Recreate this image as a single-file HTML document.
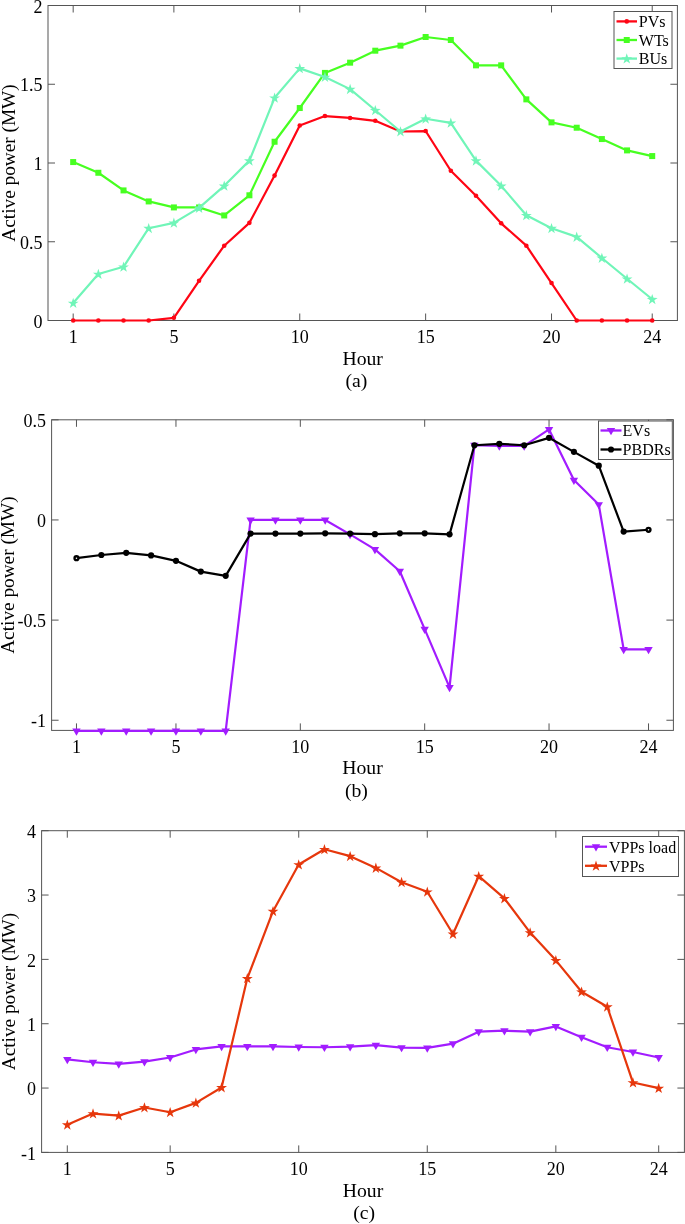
<!DOCTYPE html>
<html><head><meta charset="utf-8"><style>
html,body{margin:0;padding:0;background:#fff;}
svg{display:block;will-change:transform;}
.t{font-family:"Liberation Serif", serif;font-size:18px;fill:#000;}
.g{font-family:"Liberation Serif", serif;font-size:16px;fill:#000;}
.y{font-family:"Liberation Serif", serif;font-size:19.3px;fill:#000;}
.l{font-family:"Liberation Serif", serif;font-size:19.7px;fill:#000;}
</style></head><body>
<svg width="685" height="1224" viewBox="0 0 685 1224">
<rect width="685" height="1224" fill="#fff"/>
<rect x="48.0" y="5.5" width="629.40" height="315.00" fill="none" stroke="#555555" stroke-width="1"/>
<path d="M73.18,320.5 v-7.0 M73.18,5.5 v7.0" stroke="#555555" stroke-width="1"/>
<text x="73.18" y="342.80" text-anchor="middle" class="t">1</text>
<path d="M173.88,320.5 v-7.0 M173.88,5.5 v7.0" stroke="#555555" stroke-width="1"/>
<text x="173.88" y="342.80" text-anchor="middle" class="t">5</text>
<path d="M299.76,320.5 v-7.0 M299.76,5.5 v7.0" stroke="#555555" stroke-width="1"/>
<text x="299.76" y="342.80" text-anchor="middle" class="t">10</text>
<path d="M425.64,320.5 v-7.0 M425.64,5.5 v7.0" stroke="#555555" stroke-width="1"/>
<text x="425.64" y="342.80" text-anchor="middle" class="t">15</text>
<path d="M551.52,320.5 v-7.0 M551.52,5.5 v7.0" stroke="#555555" stroke-width="1"/>
<text x="551.52" y="342.80" text-anchor="middle" class="t">20</text>
<path d="M652.22,320.5 v-7.0 M652.22,5.5 v7.0" stroke="#555555" stroke-width="1"/>
<text x="652.22" y="342.80" text-anchor="middle" class="t">24</text>
<path d="M48.0,320.50 h7.0 M677.4,320.50 h-7.0" stroke="#555555" stroke-width="1"/>
<text x="42.50" y="327.70" text-anchor="end" class="t">0</text>
<path d="M48.0,241.75 h7.0 M677.4,241.75 h-7.0" stroke="#555555" stroke-width="1"/>
<text x="42.50" y="248.95" text-anchor="end" class="t">0.5</text>
<path d="M48.0,163.00 h7.0 M677.4,163.00 h-7.0" stroke="#555555" stroke-width="1"/>
<text x="42.50" y="170.20" text-anchor="end" class="t">1</text>
<path d="M48.0,84.25 h7.0 M677.4,84.25 h-7.0" stroke="#555555" stroke-width="1"/>
<text x="42.50" y="91.45" text-anchor="end" class="t">1.5</text>
<path d="M48.0,5.50 h7.0 M677.4,5.50 h-7.0" stroke="#555555" stroke-width="1"/>
<text x="42.50" y="12.70" text-anchor="end" class="t">2</text>
<path d="M73.18,320.50 L98.35,320.50 L123.53,320.50 L148.70,320.50 L173.88,317.82 L199.06,280.81 L224.23,245.69 L249.41,222.85 L274.58,175.60 L299.76,125.52 L324.94,116.06 L350.11,117.95 L375.29,120.79 L400.46,131.50 L425.64,131.03 L450.82,170.72 L475.99,195.76 L501.17,223.32 L526.34,245.69 L551.52,283.01 L576.70,320.50 L601.87,320.50 L627.05,320.50 L652.22,320.50" fill="none" stroke="#ff0514" stroke-width="2.2" stroke-linejoin="round"/>
<circle cx="73.18" cy="320.50" r="2.3" fill="#ff0514"/>
<circle cx="98.35" cy="320.50" r="2.3" fill="#ff0514"/>
<circle cx="123.53" cy="320.50" r="2.3" fill="#ff0514"/>
<circle cx="148.70" cy="320.50" r="2.3" fill="#ff0514"/>
<circle cx="173.88" cy="317.82" r="2.3" fill="#ff0514"/>
<circle cx="199.06" cy="280.81" r="2.3" fill="#ff0514"/>
<circle cx="224.23" cy="245.69" r="2.3" fill="#ff0514"/>
<circle cx="249.41" cy="222.85" r="2.3" fill="#ff0514"/>
<circle cx="274.58" cy="175.60" r="2.3" fill="#ff0514"/>
<circle cx="299.76" cy="125.52" r="2.3" fill="#ff0514"/>
<circle cx="324.94" cy="116.06" r="2.3" fill="#ff0514"/>
<circle cx="350.11" cy="117.95" r="2.3" fill="#ff0514"/>
<circle cx="375.29" cy="120.79" r="2.3" fill="#ff0514"/>
<circle cx="400.46" cy="131.50" r="2.3" fill="#ff0514"/>
<circle cx="425.64" cy="131.03" r="2.3" fill="#ff0514"/>
<circle cx="450.82" cy="170.72" r="2.3" fill="#ff0514"/>
<circle cx="475.99" cy="195.76" r="2.3" fill="#ff0514"/>
<circle cx="501.17" cy="223.32" r="2.3" fill="#ff0514"/>
<circle cx="526.34" cy="245.69" r="2.3" fill="#ff0514"/>
<circle cx="551.52" cy="283.01" r="2.3" fill="#ff0514"/>
<circle cx="576.70" cy="320.50" r="2.3" fill="#ff0514"/>
<circle cx="601.87" cy="320.50" r="2.3" fill="#ff0514"/>
<circle cx="627.05" cy="320.50" r="2.3" fill="#ff0514"/>
<circle cx="652.22" cy="320.50" r="2.3" fill="#ff0514"/>
<path d="M73.18,162.06 L98.35,172.77 L123.53,190.41 L148.70,201.43 L173.88,207.42 L199.06,207.42 L224.23,215.45 L249.41,195.29 L274.58,141.74 L299.76,108.03 L324.94,72.91 L350.11,62.67 L375.29,50.70 L400.46,45.66 L425.64,37.00 L450.82,39.99 L475.99,65.35 L501.17,65.35 L526.34,99.37 L551.52,122.37 L576.70,127.72 L601.87,139.06 L627.05,150.40 L652.22,156.07" fill="none" stroke="#47ff21" stroke-width="2.2" stroke-linejoin="round"/>
<rect x="70.18" y="159.06" width="6.0" height="6.0" fill="#47ff21"/>
<rect x="95.35" y="169.77" width="6.0" height="6.0" fill="#47ff21"/>
<rect x="120.53" y="187.41" width="6.0" height="6.0" fill="#47ff21"/>
<rect x="145.70" y="198.43" width="6.0" height="6.0" fill="#47ff21"/>
<rect x="170.88" y="204.42" width="6.0" height="6.0" fill="#47ff21"/>
<rect x="196.06" y="204.42" width="6.0" height="6.0" fill="#47ff21"/>
<rect x="221.23" y="212.45" width="6.0" height="6.0" fill="#47ff21"/>
<rect x="246.41" y="192.29" width="6.0" height="6.0" fill="#47ff21"/>
<rect x="271.58" y="138.74" width="6.0" height="6.0" fill="#47ff21"/>
<rect x="296.76" y="105.03" width="6.0" height="6.0" fill="#47ff21"/>
<rect x="321.94" y="69.91" width="6.0" height="6.0" fill="#47ff21"/>
<rect x="347.11" y="59.67" width="6.0" height="6.0" fill="#47ff21"/>
<rect x="372.29" y="47.70" width="6.0" height="6.0" fill="#47ff21"/>
<rect x="397.46" y="42.66" width="6.0" height="6.0" fill="#47ff21"/>
<rect x="422.64" y="34.00" width="6.0" height="6.0" fill="#47ff21"/>
<rect x="447.82" y="36.99" width="6.0" height="6.0" fill="#47ff21"/>
<rect x="472.99" y="62.35" width="6.0" height="6.0" fill="#47ff21"/>
<rect x="498.17" y="62.35" width="6.0" height="6.0" fill="#47ff21"/>
<rect x="523.34" y="96.37" width="6.0" height="6.0" fill="#47ff21"/>
<rect x="548.52" y="119.37" width="6.0" height="6.0" fill="#47ff21"/>
<rect x="573.70" y="124.72" width="6.0" height="6.0" fill="#47ff21"/>
<rect x="598.87" y="136.06" width="6.0" height="6.0" fill="#47ff21"/>
<rect x="624.05" y="147.40" width="6.0" height="6.0" fill="#47ff21"/>
<rect x="649.22" y="153.07" width="6.0" height="6.0" fill="#47ff21"/>
<path d="M73.18,303.02 L98.35,274.04 L123.53,266.79 L148.70,228.21 L173.88,222.85 L199.06,207.89 L224.23,185.84 L249.41,160.64 L274.58,97.80 L299.76,68.34 L324.94,77.00 L350.11,89.13 L375.29,110.24 L400.46,131.50 L425.64,118.74 L450.82,122.84 L475.99,160.64 L501.17,185.84 L526.34,215.29 L551.52,228.21 L576.70,236.87 L601.87,257.97 L627.05,278.76 L652.22,299.24" fill="none" stroke="#70f5b8" stroke-width="2.2" stroke-linejoin="round"/>
<path d="M73.18,297.72 L74.47,301.64 L78.60,301.66 L75.27,304.10 L76.53,308.03 L73.18,305.62 L69.83,308.03 L71.08,304.10 L67.75,301.66 L71.88,301.64Z" fill="#70f5b8"/>
<path d="M98.35,268.74 L99.65,272.66 L103.77,272.68 L100.44,275.12 L101.70,279.05 L98.35,276.64 L95.00,279.05 L96.26,275.12 L92.93,272.68 L97.06,272.66Z" fill="#70f5b8"/>
<path d="M123.53,261.49 L124.82,265.41 L128.95,265.43 L125.62,267.87 L126.88,271.80 L123.53,269.39 L120.18,271.80 L121.44,267.87 L118.11,265.43 L122.23,265.41Z" fill="#70f5b8"/>
<path d="M148.70,222.91 L150.00,226.83 L154.13,226.84 L150.80,229.28 L152.05,233.22 L148.70,230.81 L145.35,233.22 L146.61,229.28 L143.28,226.84 L147.41,226.83Z" fill="#70f5b8"/>
<path d="M173.88,217.55 L175.17,221.47 L179.30,221.49 L175.97,223.93 L177.23,227.86 L173.88,225.45 L170.53,227.86 L171.79,223.93 L168.46,221.49 L172.59,221.47Z" fill="#70f5b8"/>
<path d="M199.06,202.59 L200.35,206.51 L204.48,206.53 L201.15,208.97 L202.41,212.90 L199.06,210.49 L195.71,212.90 L196.96,208.97 L193.63,206.53 L197.76,206.51Z" fill="#70f5b8"/>
<path d="M224.23,180.54 L225.53,184.46 L229.65,184.48 L226.32,186.92 L227.58,190.85 L224.23,188.44 L220.88,190.85 L222.14,186.92 L218.81,184.48 L222.94,184.46Z" fill="#70f5b8"/>
<path d="M249.41,155.34 L250.70,159.26 L254.83,159.28 L251.50,161.72 L252.76,165.65 L249.41,163.24 L246.06,165.65 L247.32,161.72 L243.99,159.28 L248.11,159.26Z" fill="#70f5b8"/>
<path d="M274.58,92.50 L275.88,96.42 L280.01,96.43 L276.68,98.87 L277.93,102.81 L274.58,100.40 L271.23,102.81 L272.49,98.87 L269.16,96.43 L273.29,96.42Z" fill="#70f5b8"/>
<path d="M299.76,63.04 L301.05,66.96 L305.18,66.98 L301.85,69.42 L303.11,73.35 L299.76,70.94 L296.41,73.35 L297.67,69.42 L294.34,66.98 L298.47,66.96Z" fill="#70f5b8"/>
<path d="M324.94,71.70 L326.23,75.63 L330.36,75.64 L327.03,78.08 L328.29,82.02 L324.94,79.61 L321.59,82.02 L322.84,78.08 L319.51,75.64 L323.64,75.63Z" fill="#70f5b8"/>
<path d="M350.11,83.83 L351.41,87.75 L355.53,87.77 L352.20,90.21 L353.46,94.14 L350.11,91.73 L346.76,94.14 L348.02,90.21 L344.69,87.77 L348.82,87.75Z" fill="#70f5b8"/>
<path d="M375.29,104.94 L376.58,108.86 L380.71,108.88 L377.38,111.32 L378.64,115.25 L375.29,112.84 L371.94,115.25 L373.20,111.32 L369.87,108.88 L373.99,108.86Z" fill="#70f5b8"/>
<path d="M400.46,126.20 L401.76,130.12 L405.89,130.14 L402.56,132.58 L403.81,136.51 L400.46,134.10 L397.11,136.51 L398.37,132.58 L395.04,130.14 L399.17,130.12Z" fill="#70f5b8"/>
<path d="M425.64,113.44 L426.93,117.36 L431.06,117.38 L427.73,119.82 L428.99,123.75 L425.64,121.34 L422.29,123.75 L423.55,119.82 L420.22,117.38 L424.35,117.36Z" fill="#70f5b8"/>
<path d="M450.82,117.54 L452.11,121.46 L456.24,121.48 L452.91,123.92 L454.17,127.85 L450.82,125.44 L447.47,127.85 L448.72,123.92 L445.39,121.48 L449.52,121.46Z" fill="#70f5b8"/>
<path d="M475.99,155.34 L477.29,159.26 L481.41,159.28 L478.08,161.72 L479.34,165.65 L475.99,163.24 L472.64,165.65 L473.90,161.72 L470.57,159.28 L474.70,159.26Z" fill="#70f5b8"/>
<path d="M501.17,180.54 L502.46,184.46 L506.59,184.48 L503.26,186.92 L504.52,190.85 L501.17,188.44 L497.82,190.85 L499.08,186.92 L495.75,184.48 L499.87,184.46Z" fill="#70f5b8"/>
<path d="M526.34,209.99 L527.64,213.91 L531.77,213.93 L528.44,216.37 L529.69,220.30 L526.34,217.89 L522.99,220.30 L524.25,216.37 L520.92,213.93 L525.05,213.91Z" fill="#70f5b8"/>
<path d="M551.52,222.91 L552.81,226.83 L556.94,226.84 L553.61,229.28 L554.87,233.22 L551.52,230.81 L548.17,233.22 L549.43,229.28 L546.10,226.84 L550.23,226.83Z" fill="#70f5b8"/>
<path d="M576.70,231.57 L577.99,235.49 L582.12,235.51 L578.79,237.95 L580.05,241.88 L576.70,239.47 L573.35,241.88 L574.60,237.95 L571.27,235.51 L575.40,235.49Z" fill="#70f5b8"/>
<path d="M601.87,252.67 L603.17,256.59 L607.29,256.61 L603.96,259.05 L605.22,262.98 L601.87,260.57 L598.52,262.98 L599.78,259.05 L596.45,256.61 L600.58,256.59Z" fill="#70f5b8"/>
<path d="M627.05,273.46 L628.34,277.38 L632.47,277.40 L629.14,279.84 L630.40,283.77 L627.05,281.36 L623.70,283.77 L624.96,279.84 L621.63,277.40 L625.75,277.38Z" fill="#70f5b8"/>
<path d="M652.22,293.94 L653.52,297.86 L657.65,297.88 L654.32,300.32 L655.57,304.25 L652.22,301.84 L648.87,304.25 L650.13,300.32 L646.80,297.88 L650.93,297.86Z" fill="#70f5b8"/>
<rect x="614.0" y="11.5" width="58.00" height="57.00" fill="#fff" stroke="#555555" stroke-width="1"/>
<path d="M616.5,21.4 H637.0" stroke="#ff0514" stroke-width="2.3"/>
<circle cx="626.75" cy="21.40" r="2.3" fill="#ff0514"/>
<text x="638.8" y="26.90" class="g">PVs</text>
<path d="M616.5,40.0 H637.0" stroke="#47ff21" stroke-width="2.3"/>
<rect x="623.75" y="37.00" width="6.0" height="6.0" fill="#47ff21"/>
<text x="638.8" y="45.50" class="g">WTs</text>
<path d="M616.5,58.6 H637.0" stroke="#70f5b8" stroke-width="2.3"/>
<path d="M626.75,53.30 L628.04,57.22 L632.17,57.24 L628.84,59.68 L630.10,63.61 L626.75,61.20 L623.40,63.61 L624.66,59.68 L621.33,57.24 L625.46,57.22Z" fill="#70f5b8"/>
<text x="638.8" y="64.10" class="g">BUs</text>
<text transform="translate(15.0,163.00) rotate(-90)" text-anchor="middle" class="y">Active power (MW)</text>
<text x="362.70" y="364.5" text-anchor="middle" class="l">Hour</text>
<text x="356.40" y="386.5" text-anchor="middle" class="l">(a)</text>
<rect x="51.6" y="419.8" width="621.80" height="310.60" fill="none" stroke="#555555" stroke-width="1"/>
<path d="M76.47,730.4 v-7.0 M76.47,419.8 v7.0" stroke="#555555" stroke-width="1"/>
<text x="76.47" y="752.70" text-anchor="middle" class="t">1</text>
<path d="M175.96,730.4 v-7.0 M175.96,419.8 v7.0" stroke="#555555" stroke-width="1"/>
<text x="175.96" y="752.70" text-anchor="middle" class="t">5</text>
<path d="M300.32,730.4 v-7.0 M300.32,419.8 v7.0" stroke="#555555" stroke-width="1"/>
<text x="300.32" y="752.70" text-anchor="middle" class="t">10</text>
<path d="M424.68,730.4 v-7.0 M424.68,419.8 v7.0" stroke="#555555" stroke-width="1"/>
<text x="424.68" y="752.70" text-anchor="middle" class="t">15</text>
<path d="M549.04,730.4 v-7.0 M549.04,419.8 v7.0" stroke="#555555" stroke-width="1"/>
<text x="549.04" y="752.70" text-anchor="middle" class="t">20</text>
<path d="M648.53,730.4 v-7.0 M648.53,419.8 v7.0" stroke="#555555" stroke-width="1"/>
<text x="648.53" y="752.70" text-anchor="middle" class="t">24</text>
<path d="M51.6,720.24 h7.0 M673.4,720.24 h-7.0" stroke="#555555" stroke-width="1"/>
<text x="46.10" y="727.44" text-anchor="end" class="t">-1</text>
<path d="M51.6,620.10 h7.0 M673.4,620.10 h-7.0" stroke="#555555" stroke-width="1"/>
<text x="46.10" y="627.30" text-anchor="end" class="t">-0.5</text>
<path d="M51.6,519.95 h7.0 M673.4,519.95 h-7.0" stroke="#555555" stroke-width="1"/>
<text x="46.10" y="527.15" text-anchor="end" class="t">0</text>
<path d="M51.6,419.80 h7.0 M673.4,419.80 h-7.0" stroke="#555555" stroke-width="1"/>
<text x="46.10" y="427.00" text-anchor="end" class="t">0.5</text>
<path d="M76.47,730.86 L101.34,730.86 L126.22,730.86 L151.09,730.86 L175.96,730.86 L200.83,730.86 L225.70,730.86 L250.58,519.95 L275.45,519.95 L300.32,519.95 L325.19,519.95 L350.06,534.37 L374.94,549.39 L399.81,571.22 L424.68,629.11 L449.55,687.40 L474.42,445.24 L499.30,445.84 L524.17,445.84 L549.04,429.41 L573.91,480.09 L598.78,504.53 L623.66,649.34 L648.53,649.34" fill="none" stroke="#a21cff" stroke-width="2.2" stroke-linejoin="round"/>
<path d="M72.27,728.46 L80.67,728.46 L76.47,735.66Z" fill="#a21cff"/>
<path d="M97.14,728.46 L105.54,728.46 L101.34,735.66Z" fill="#a21cff"/>
<path d="M122.02,728.46 L130.42,728.46 L126.22,735.66Z" fill="#a21cff"/>
<path d="M146.89,728.46 L155.29,728.46 L151.09,735.66Z" fill="#a21cff"/>
<path d="M171.76,728.46 L180.16,728.46 L175.96,735.66Z" fill="#a21cff"/>
<path d="M196.63,728.46 L205.03,728.46 L200.83,735.66Z" fill="#a21cff"/>
<path d="M221.50,728.46 L229.90,728.46 L225.70,735.66Z" fill="#a21cff"/>
<path d="M246.38,517.55 L254.78,517.55 L250.58,524.75Z" fill="#a21cff"/>
<path d="M271.25,517.55 L279.65,517.55 L275.45,524.75Z" fill="#a21cff"/>
<path d="M296.12,517.55 L304.52,517.55 L300.32,524.75Z" fill="#a21cff"/>
<path d="M320.99,517.55 L329.39,517.55 L325.19,524.75Z" fill="#a21cff"/>
<path d="M345.86,531.97 L354.26,531.97 L350.06,539.17Z" fill="#a21cff"/>
<path d="M370.74,546.99 L379.14,546.99 L374.94,554.19Z" fill="#a21cff"/>
<path d="M395.61,568.82 L404.01,568.82 L399.81,576.02Z" fill="#a21cff"/>
<path d="M420.48,626.71 L428.88,626.71 L424.68,633.91Z" fill="#a21cff"/>
<path d="M445.35,685.00 L453.75,685.00 L449.55,692.20Z" fill="#a21cff"/>
<path d="M470.22,442.84 L478.62,442.84 L474.42,450.04Z" fill="#a21cff"/>
<path d="M495.10,443.44 L503.50,443.44 L499.30,450.64Z" fill="#a21cff"/>
<path d="M519.97,443.44 L528.37,443.44 L524.17,450.64Z" fill="#a21cff"/>
<path d="M544.84,427.01 L553.24,427.01 L549.04,434.21Z" fill="#a21cff"/>
<path d="M569.71,477.69 L578.11,477.69 L573.91,484.89Z" fill="#a21cff"/>
<path d="M594.58,502.13 L602.98,502.13 L598.78,509.33Z" fill="#a21cff"/>
<path d="M619.46,646.94 L627.86,646.94 L623.66,654.14Z" fill="#a21cff"/>
<path d="M644.33,646.94 L652.73,646.94 L648.53,654.14Z" fill="#a21cff"/>
<path d="M76.47,558.20 L101.34,555.00 L126.22,552.80 L151.09,555.40 L175.96,560.81 L200.83,571.62 L225.70,575.83 L250.58,533.57 L275.45,533.57 L300.32,533.57 L325.19,533.37 L350.06,533.57 L374.94,534.17 L399.81,533.37 L424.68,533.37 L449.55,534.37 L474.42,445.24 L499.30,443.84 L524.17,445.24 L549.04,437.83 L573.91,451.85 L598.78,465.67 L623.66,531.57 L648.53,529.76" fill="none" stroke="#000000" stroke-width="2.2" stroke-linejoin="round"/>
<circle cx="76.47" cy="558.20" r="1.95" fill="#fff" stroke="#000" stroke-width="2.35"/>
<circle cx="101.34" cy="555.00" r="3.1" fill="#000000"/>
<circle cx="126.22" cy="552.80" r="3.1" fill="#000000"/>
<circle cx="151.09" cy="555.40" r="3.1" fill="#000000"/>
<circle cx="175.96" cy="560.81" r="3.1" fill="#000000"/>
<circle cx="200.83" cy="571.62" r="3.1" fill="#000000"/>
<circle cx="225.70" cy="575.83" r="3.1" fill="#000000"/>
<circle cx="250.58" cy="533.57" r="3.1" fill="#000000"/>
<circle cx="275.45" cy="533.57" r="3.1" fill="#000000"/>
<circle cx="300.32" cy="533.57" r="3.1" fill="#000000"/>
<circle cx="325.19" cy="533.37" r="3.1" fill="#000000"/>
<circle cx="350.06" cy="533.57" r="3.1" fill="#000000"/>
<circle cx="374.94" cy="534.17" r="3.1" fill="#000000"/>
<circle cx="399.81" cy="533.37" r="3.1" fill="#000000"/>
<circle cx="424.68" cy="533.37" r="3.1" fill="#000000"/>
<circle cx="449.55" cy="534.37" r="3.1" fill="#000000"/>
<circle cx="474.42" cy="445.24" r="3.1" fill="#000000"/>
<circle cx="499.30" cy="443.84" r="3.1" fill="#000000"/>
<circle cx="524.17" cy="445.24" r="3.1" fill="#000000"/>
<circle cx="549.04" cy="437.83" r="3.1" fill="#000000"/>
<circle cx="573.91" cy="451.85" r="3.1" fill="#000000"/>
<circle cx="598.78" cy="465.67" r="3.1" fill="#000000"/>
<circle cx="623.66" cy="531.57" r="3.1" fill="#000000"/>
<circle cx="648.53" cy="529.76" r="1.95" fill="#fff" stroke="#000" stroke-width="2.35"/>
<rect x="598.5" y="421.0" width="73.80" height="38.50" fill="#fff" stroke="#555555" stroke-width="1"/>
<path d="M600.5,430.5 H621.5" stroke="#a21cff" stroke-width="2.3"/>
<path d="M606.80,428.10 L615.20,428.10 L611.00,435.30Z" fill="#a21cff"/>
<text x="622.6" y="436.00" class="g">EVs</text>
<path d="M600.5,449.5 H621.5" stroke="#000000" stroke-width="2.3"/>
<circle cx="611.00" cy="449.50" r="3.1" fill="#000000"/>
<text x="622.6" y="455.00" class="g">PBDRs</text>
<text transform="translate(14.2,575.10) rotate(-90)" text-anchor="middle" class="y">Active power (MW)</text>
<text x="362.50" y="774.0" text-anchor="middle" class="l">Hour</text>
<text x="356.40" y="796.5" text-anchor="middle" class="l">(b)</text>
<rect x="41.6" y="830.7" width="642.80" height="321.70" fill="none" stroke="#555555" stroke-width="1"/>
<path d="M67.31,1152.4 v-7.0 M67.31,830.7 v7.0" stroke="#555555" stroke-width="1"/>
<text x="67.31" y="1174.70" text-anchor="middle" class="t">1</text>
<path d="M170.16,1152.4 v-7.0 M170.16,830.7 v7.0" stroke="#555555" stroke-width="1"/>
<text x="170.16" y="1174.70" text-anchor="middle" class="t">5</text>
<path d="M298.72,1152.4 v-7.0 M298.72,830.7 v7.0" stroke="#555555" stroke-width="1"/>
<text x="298.72" y="1174.70" text-anchor="middle" class="t">10</text>
<path d="M427.28,1152.4 v-7.0 M427.28,830.7 v7.0" stroke="#555555" stroke-width="1"/>
<text x="427.28" y="1174.70" text-anchor="middle" class="t">15</text>
<path d="M555.84,1152.4 v-7.0 M555.84,830.7 v7.0" stroke="#555555" stroke-width="1"/>
<text x="555.84" y="1174.70" text-anchor="middle" class="t">20</text>
<path d="M658.69,1152.4 v-7.0 M658.69,830.7 v7.0" stroke="#555555" stroke-width="1"/>
<text x="658.69" y="1174.70" text-anchor="middle" class="t">24</text>
<path d="M41.6,1152.40 h7.0 M684.4,1152.40 h-7.0" stroke="#555555" stroke-width="1"/>
<text x="36.10" y="1159.60" text-anchor="end" class="t">-1</text>
<path d="M41.6,1088.06 h7.0 M684.4,1088.06 h-7.0" stroke="#555555" stroke-width="1"/>
<text x="36.10" y="1095.26" text-anchor="end" class="t">0</text>
<path d="M41.6,1023.72 h7.0 M684.4,1023.72 h-7.0" stroke="#555555" stroke-width="1"/>
<text x="36.10" y="1030.92" text-anchor="end" class="t">1</text>
<path d="M41.6,959.38 h7.0 M684.4,959.38 h-7.0" stroke="#555555" stroke-width="1"/>
<text x="36.10" y="966.58" text-anchor="end" class="t">2</text>
<path d="M41.6,895.04 h7.0 M684.4,895.04 h-7.0" stroke="#555555" stroke-width="1"/>
<text x="36.10" y="902.24" text-anchor="end" class="t">3</text>
<path d="M41.6,830.70 h7.0 M684.4,830.70 h-7.0" stroke="#555555" stroke-width="1"/>
<text x="36.10" y="837.90" text-anchor="end" class="t">4</text>
<path d="M67.31,1059.43 L93.02,1062.26 L118.74,1063.93 L144.45,1061.68 L170.16,1057.50 L195.87,1049.46 L221.58,1046.43 L247.30,1046.43 L273.01,1046.43 L298.72,1047.01 L324.43,1047.27 L350.14,1046.69 L375.86,1045.08 L401.57,1047.53 L427.28,1047.85 L452.99,1043.67 L478.70,1031.70 L504.42,1030.67 L530.13,1031.70 L555.84,1026.42 L581.55,1037.23 L607.26,1047.27 L632.98,1051.97 L658.69,1057.50" fill="none" stroke="#a21cff" stroke-width="2.2" stroke-linejoin="round"/>
<path d="M63.11,1057.03 L71.51,1057.03 L67.31,1064.23Z" fill="#a21cff"/>
<path d="M88.82,1059.86 L97.22,1059.86 L93.02,1067.06Z" fill="#a21cff"/>
<path d="M114.54,1061.53 L122.94,1061.53 L118.74,1068.73Z" fill="#a21cff"/>
<path d="M140.25,1059.28 L148.65,1059.28 L144.45,1066.48Z" fill="#a21cff"/>
<path d="M165.96,1055.10 L174.36,1055.10 L170.16,1062.30Z" fill="#a21cff"/>
<path d="M191.67,1047.06 L200.07,1047.06 L195.87,1054.26Z" fill="#a21cff"/>
<path d="M217.38,1044.03 L225.78,1044.03 L221.58,1051.23Z" fill="#a21cff"/>
<path d="M243.10,1044.03 L251.50,1044.03 L247.30,1051.23Z" fill="#a21cff"/>
<path d="M268.81,1044.03 L277.21,1044.03 L273.01,1051.23Z" fill="#a21cff"/>
<path d="M294.52,1044.61 L302.92,1044.61 L298.72,1051.81Z" fill="#a21cff"/>
<path d="M320.23,1044.87 L328.63,1044.87 L324.43,1052.07Z" fill="#a21cff"/>
<path d="M345.94,1044.29 L354.34,1044.29 L350.14,1051.49Z" fill="#a21cff"/>
<path d="M371.66,1042.68 L380.06,1042.68 L375.86,1049.88Z" fill="#a21cff"/>
<path d="M397.37,1045.13 L405.77,1045.13 L401.57,1052.33Z" fill="#a21cff"/>
<path d="M423.08,1045.45 L431.48,1045.45 L427.28,1052.65Z" fill="#a21cff"/>
<path d="M448.79,1041.27 L457.19,1041.27 L452.99,1048.47Z" fill="#a21cff"/>
<path d="M474.50,1029.30 L482.90,1029.30 L478.70,1036.50Z" fill="#a21cff"/>
<path d="M500.22,1028.27 L508.62,1028.27 L504.42,1035.47Z" fill="#a21cff"/>
<path d="M525.93,1029.30 L534.33,1029.30 L530.13,1036.50Z" fill="#a21cff"/>
<path d="M551.64,1024.02 L560.04,1024.02 L555.84,1031.22Z" fill="#a21cff"/>
<path d="M577.35,1034.83 L585.75,1034.83 L581.55,1042.03Z" fill="#a21cff"/>
<path d="M603.06,1044.87 L611.46,1044.87 L607.26,1052.07Z" fill="#a21cff"/>
<path d="M628.78,1049.57 L637.18,1049.57 L632.98,1056.77Z" fill="#a21cff"/>
<path d="M654.49,1055.10 L662.89,1055.10 L658.69,1062.30Z" fill="#a21cff"/>
<path d="M67.31,1124.73 L93.02,1113.60 L118.74,1115.60 L144.45,1107.49 L170.16,1112.25 L195.87,1102.86 L221.58,1087.48 L247.30,978.36 L273.01,911.19 L298.72,864.54 L324.43,849.29 L350.14,856.18 L375.86,867.89 L401.57,882.17 L427.28,891.76 L452.99,933.97 L478.70,876.19 L504.42,898.39 L530.13,932.55 L555.84,960.35 L581.55,991.74 L607.26,1006.73 L632.98,1082.53 L658.69,1088.06" fill="none" stroke="#e6370c" stroke-width="2.2" stroke-linejoin="round"/>
<path d="M67.31,1119.43 L68.61,1123.35 L72.73,1123.37 L69.40,1125.81 L70.66,1129.75 L67.31,1127.33 L63.96,1129.75 L65.22,1125.81 L61.89,1123.37 L66.02,1123.35Z" fill="#e6370c"/>
<path d="M93.02,1108.30 L94.32,1112.22 L98.45,1112.24 L95.12,1114.68 L96.37,1118.61 L93.02,1116.20 L89.67,1118.61 L90.93,1114.68 L87.60,1112.24 L91.73,1112.22Z" fill="#e6370c"/>
<path d="M118.74,1110.30 L120.03,1114.22 L124.16,1114.24 L120.83,1116.68 L122.09,1120.61 L118.74,1118.20 L115.39,1120.61 L116.64,1116.68 L113.31,1114.24 L117.44,1114.22Z" fill="#e6370c"/>
<path d="M144.45,1102.19 L145.74,1106.11 L149.87,1106.13 L146.54,1108.57 L147.80,1112.50 L144.45,1110.09 L141.10,1112.50 L142.36,1108.57 L139.03,1106.13 L143.15,1106.11Z" fill="#e6370c"/>
<path d="M170.16,1106.95 L171.45,1110.87 L175.58,1110.89 L172.25,1113.33 L173.51,1117.26 L170.16,1114.85 L166.81,1117.26 L168.07,1113.33 L164.74,1110.89 L168.87,1110.87Z" fill="#e6370c"/>
<path d="M195.87,1097.56 L197.17,1101.48 L201.29,1101.50 L197.96,1103.94 L199.22,1107.87 L195.87,1105.46 L192.52,1107.87 L193.78,1103.94 L190.45,1101.50 L194.58,1101.48Z" fill="#e6370c"/>
<path d="M221.58,1082.18 L222.88,1086.10 L227.01,1086.12 L223.68,1088.56 L224.93,1092.49 L221.58,1090.08 L218.23,1092.49 L219.49,1088.56 L216.16,1086.12 L220.29,1086.10Z" fill="#e6370c"/>
<path d="M247.30,973.06 L248.59,976.98 L252.72,977.00 L249.39,979.44 L250.65,983.37 L247.30,980.96 L243.95,983.37 L245.20,979.44 L241.87,977.00 L246.00,976.98Z" fill="#e6370c"/>
<path d="M273.01,905.89 L274.30,909.81 L278.43,909.83 L275.10,912.27 L276.36,916.20 L273.01,913.79 L269.66,916.20 L270.92,912.27 L267.59,909.83 L271.71,909.81Z" fill="#e6370c"/>
<path d="M298.72,859.24 L300.01,863.16 L304.14,863.18 L300.81,865.62 L302.07,869.55 L298.72,867.14 L295.37,869.55 L296.63,865.62 L293.30,863.18 L297.43,863.16Z" fill="#e6370c"/>
<path d="M324.43,843.99 L325.73,847.91 L329.85,847.93 L326.52,850.37 L327.78,854.31 L324.43,851.89 L321.08,854.31 L322.34,850.37 L319.01,847.93 L323.14,847.91Z" fill="#e6370c"/>
<path d="M350.14,850.88 L351.44,854.80 L355.57,854.82 L352.24,857.26 L353.49,861.19 L350.14,858.78 L346.79,861.19 L348.05,857.26 L344.72,854.82 L348.85,854.80Z" fill="#e6370c"/>
<path d="M375.86,862.59 L377.15,866.51 L381.28,866.53 L377.95,868.97 L379.21,872.90 L375.86,870.49 L372.51,872.90 L373.76,868.97 L370.43,866.53 L374.56,866.51Z" fill="#e6370c"/>
<path d="M401.57,876.87 L402.86,880.79 L406.99,880.81 L403.66,883.25 L404.92,887.18 L401.57,884.77 L398.22,887.18 L399.48,883.25 L396.15,880.81 L400.27,880.79Z" fill="#e6370c"/>
<path d="M427.28,886.46 L428.57,890.38 L432.70,890.40 L429.37,892.84 L430.63,896.77 L427.28,894.36 L423.93,896.77 L425.19,892.84 L421.86,890.40 L425.99,890.38Z" fill="#e6370c"/>
<path d="M452.99,928.67 L454.29,932.59 L458.41,932.60 L455.08,935.05 L456.34,938.98 L452.99,936.57 L449.64,938.98 L450.90,935.05 L447.57,932.60 L451.70,932.59Z" fill="#e6370c"/>
<path d="M478.70,870.89 L480.00,874.81 L484.13,874.83 L480.80,877.27 L482.05,881.20 L478.70,878.79 L475.35,881.20 L476.61,877.27 L473.28,874.83 L477.41,874.81Z" fill="#e6370c"/>
<path d="M504.42,893.09 L505.71,897.01 L509.84,897.02 L506.51,899.47 L507.77,903.40 L504.42,900.99 L501.07,903.40 L502.32,899.47 L498.99,897.02 L503.12,897.01Z" fill="#e6370c"/>
<path d="M530.13,927.25 L531.42,931.17 L535.55,931.19 L532.22,933.63 L533.48,937.56 L530.13,935.15 L526.78,937.56 L528.04,933.63 L524.71,931.19 L528.83,931.17Z" fill="#e6370c"/>
<path d="M555.84,955.05 L557.13,958.97 L561.26,958.98 L557.93,961.42 L559.19,965.36 L555.84,962.95 L552.49,965.36 L553.75,961.42 L550.42,958.98 L554.55,958.97Z" fill="#e6370c"/>
<path d="M581.55,986.44 L582.85,990.36 L586.97,990.38 L583.64,992.82 L584.90,996.75 L581.55,994.34 L578.20,996.75 L579.46,992.82 L576.13,990.38 L580.26,990.36Z" fill="#e6370c"/>
<path d="M607.26,1001.43 L608.56,1005.35 L612.69,1005.37 L609.36,1007.81 L610.61,1011.75 L607.26,1009.33 L603.91,1011.75 L605.17,1007.81 L601.84,1005.37 L605.97,1005.35Z" fill="#e6370c"/>
<path d="M632.98,1077.23 L634.27,1081.15 L638.40,1081.17 L635.07,1083.61 L636.33,1087.54 L632.98,1085.13 L629.63,1087.54 L630.88,1083.61 L627.55,1081.17 L631.68,1081.15Z" fill="#e6370c"/>
<path d="M658.69,1082.76 L659.98,1086.68 L664.11,1086.70 L660.78,1089.14 L662.04,1093.07 L658.69,1090.66 L655.34,1093.07 L656.60,1089.14 L653.27,1086.70 L657.39,1086.68Z" fill="#e6370c"/>
<rect x="582.5" y="836.5" width="96.00" height="40.00" fill="#fff" stroke="#555555" stroke-width="1"/>
<path d="M585.0,846.7 H607.0" stroke="#a21cff" stroke-width="2.3"/>
<path d="M591.80,844.30 L600.20,844.30 L596.00,851.50Z" fill="#a21cff"/>
<text x="609.0" y="853.10" class="g">VPPs load</text>
<path d="M585.0,865.8 H607.0" stroke="#e6370c" stroke-width="2.3"/>
<path d="M596.00,860.50 L597.29,864.42 L601.42,864.44 L598.09,866.88 L599.35,870.81 L596.00,868.40 L592.65,870.81 L593.91,866.88 L590.58,864.44 L594.71,864.42Z" fill="#e6370c"/>
<text x="609.0" y="872.20" class="g">VPPs</text>
<text transform="translate(15.0,991.55) rotate(-90)" text-anchor="middle" class="y">Active power (MW)</text>
<text x="363.00" y="1196.5" text-anchor="middle" class="l">Hour</text>
<text x="364.10" y="1218.5" text-anchor="middle" class="l">(c)</text>
</svg>
</body></html>
